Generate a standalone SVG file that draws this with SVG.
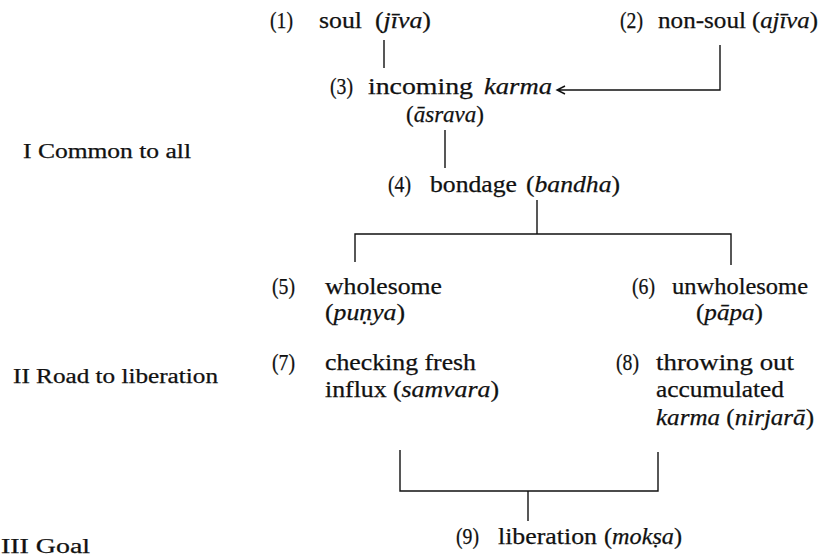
<svg xmlns="http://www.w3.org/2000/svg" width="832" height="557" viewBox="0 0 832 557">
<style>
text{font-family:"Liberation Serif","Times New Roman",serif;font-size:23px;fill:#111;stroke:#111;stroke-width:0.25}
.it{font-style:italic}
.side{font-size:20px}
.ln{stroke:#111;stroke-width:1.4;fill:none}
</style>
<rect width="832" height="557" fill="#fff"/>
<g id="labels">
<text class="side" x="23" y="158" textLength="168" lengthAdjust="spacingAndGlyphs">I Common to all</text>
<text class="side" x="13" y="383" textLength="205" lengthAdjust="spacingAndGlyphs">II Road to liberation</text>
<text class="side" x="1" y="553" textLength="89" lengthAdjust="spacingAndGlyphs">III Goal</text>
</g>
<g id="n1"><text x="270" y="28" textLength="23" lengthAdjust="spacingAndGlyphs">(1)</text><text x="319" y="28" textLength="43" lengthAdjust="spacingAndGlyphs">soul</text><text x="375" y="28" textLength="56" lengthAdjust="spacingAndGlyphs">(<tspan class="it">jīva</tspan>)</text></g>
<g id="n2"><text x="620" y="28" textLength="23" lengthAdjust="spacingAndGlyphs">(2)</text><text x="658" y="28" textLength="88" lengthAdjust="spacingAndGlyphs">non-soul</text><text x="752" y="28" textLength="66" lengthAdjust="spacingAndGlyphs">(<tspan class="it">ajīva</tspan>)</text></g>
<g id="n3"><text x="330" y="94" textLength="23" lengthAdjust="spacingAndGlyphs">(3)</text><text x="368" y="94" textLength="105" lengthAdjust="spacingAndGlyphs">incoming</text><text class="it" x="484" y="94" textLength="68" lengthAdjust="spacingAndGlyphs">karma</text><text x="406" y="122" textLength="78" lengthAdjust="spacingAndGlyphs">(<tspan class="it">āsrava</tspan>)</text></g>
<g id="n4"><text x="388" y="192" textLength="23" lengthAdjust="spacingAndGlyphs">(4)</text><text x="430" y="192" textLength="87" lengthAdjust="spacingAndGlyphs">bondage</text><text x="526" y="192" textLength="94" lengthAdjust="spacingAndGlyphs">(<tspan class="it">bandha</tspan>)</text></g>
<g id="n5"><text x="272" y="294" textLength="23" lengthAdjust="spacingAndGlyphs">(5)</text><text x="325" y="294" textLength="117" lengthAdjust="spacingAndGlyphs">wholesome</text><text x="325" y="320" textLength="80" lengthAdjust="spacingAndGlyphs">(<tspan class="it">puṇya</tspan>)</text></g>
<g id="n6"><text x="632" y="294" textLength="23" lengthAdjust="spacingAndGlyphs">(6)</text><text x="672" y="294" textLength="136" lengthAdjust="spacingAndGlyphs">unwholesome</text><text x="696" y="320" textLength="67" lengthAdjust="spacingAndGlyphs">(<tspan class="it">pāpa</tspan>)</text></g>
<g id="n7"><text x="272" y="370" textLength="23" lengthAdjust="spacingAndGlyphs">(7)</text><text x="325" y="370" textLength="151" lengthAdjust="spacingAndGlyphs">checking fresh</text><text x="325" y="397" textLength="174" lengthAdjust="spacingAndGlyphs">influx (<tspan class="it">samvara</tspan>)</text></g>
<g id="n8"><text x="616" y="370" textLength="23" lengthAdjust="spacingAndGlyphs">(8)</text><text x="656" y="370" textLength="138" lengthAdjust="spacingAndGlyphs">throwing  out</text><text x="656" y="397" textLength="128" lengthAdjust="spacingAndGlyphs">accumulated</text><text x="656" y="425" textLength="158" lengthAdjust="spacingAndGlyphs"><tspan class="it">karma</tspan> (<tspan class="it">nirjarā</tspan>)</text></g>
<g id="n9"><text x="456" y="544" textLength="23" lengthAdjust="spacingAndGlyphs">(9)</text><text x="498" y="544" textLength="99" lengthAdjust="spacingAndGlyphs">liberation</text><text x="604" y="544" textLength="78" lengthAdjust="spacingAndGlyphs">(<tspan class="it">mokṣa</tspan>)</text></g>
<g id="connectors">
<path class="ln" d="M384 40V68"/>
<path class="ln" d="M720 45V90H557M565 86L557 90L565 94"/>
<path class="ln" d="M445 130V168"/>
<path class="ln" d="M537 200V234"/>
<path class="ln" d="M355 262V234H731V265"/>
<path class="ln" d="M400 450V491H658V452"/>
<path class="ln" d="M528 491V521"/>
</g>
</svg>
